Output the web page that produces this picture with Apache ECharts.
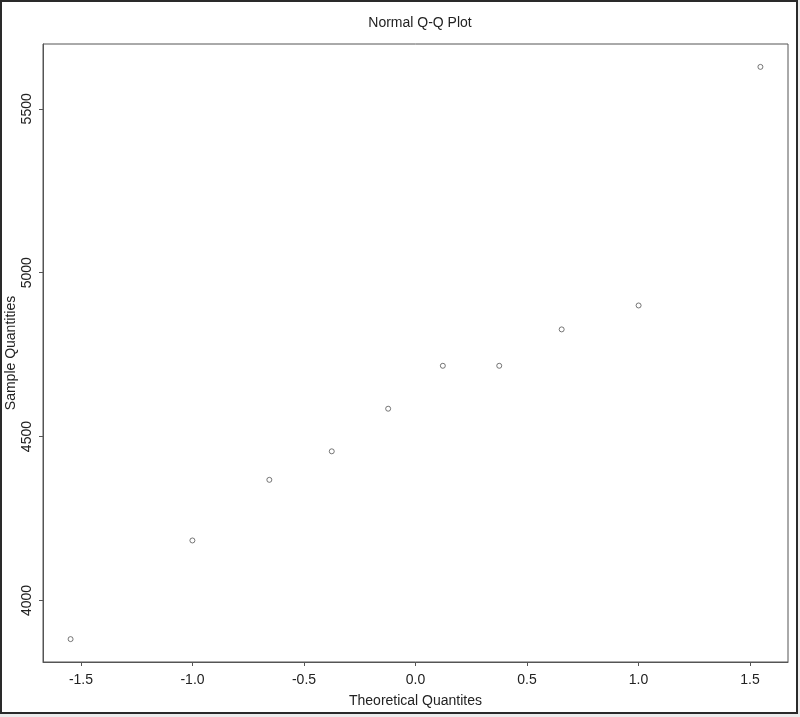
<!DOCTYPE html>
<html>
<head>
<meta charset="utf-8">
<script src="https://cdn.jsdelivr.net/npm/echarts@6/dist/echarts.min.js"></script>
<style>
html,body{margin:0;padding:0;background:#ececec;}
#chart{width:800px;height:717px;}
</style>
</head>
<body>
<div id="chart"></div>
<script>
// Data
const theoreticalQuantiles = [-1.5466, -1.0004, -0.6554, -0.3755, -0.1226, 0.1226, 0.3755, 0.6554, 1.0004, 1.5466];
const sampleQuantiles = [3882, 4183, 4368, 4455, 4585, 4716, 4716, 4827, 4900, 5628];
const xTicks = [-1.5, -1.0, -0.5, 0.0, 0.5, 1.0, 1.5];
const yTicks = [4000, 4500, 5000, 5500];

const points = theoreticalQuantiles.map((x, i) => [x, sampleQuantiles[i]]);

const xr = Math.max(...theoreticalQuantiles) - Math.min(...theoreticalQuantiles);
const yr = Math.max(...sampleQuantiles) - Math.min(...sampleQuantiles);
const xMin = Math.min(...theoreticalQuantiles) - 0.04 * xr;
const xMax = Math.max(...theoreticalQuantiles) + 0.04 * xr;
const yMin = Math.min(...sampleQuantiles) - 0.04 * yr;
const yMax = Math.max(...sampleQuantiles) + 0.04 * yr;

const FONT = '"Liberation Sans", Arial, sans-serif';
const chart = echarts.init(document.getElementById('chart'), null, {renderer: 'canvas'});
chart.setOption({
  animation: false,
  backgroundColor: 'transparent',
  graphic: [{
    type: 'rect', z: -10,
    shape: {x: 1, y: 1, width: 796, height: 712},
    style: {fill: '#ffffff', stroke: '#2a2a2a', lineWidth: 2}
  }],
  title: {
    text: 'Normal Q-Q Plot',
    left: 415, top: 11, textAlign: 'center',
    textStyle: {fontFamily: FONT, fontSize: 14, fontWeight: 'normal', color: '#222'}
  },
  grid: {
    left: 43, top: 44, width: 745, height: 618,
    containLabel: false, outerBoundsMode: 'none',
    show: true, borderColor: '#555', borderWidth: 1, backgroundColor: 'transparent'
  },
  xAxis: {
    type: 'value', min: xMin, max: xMax,
    name: 'Theoretical Quantites', nameLocation: 'middle', nameGap: 32, nameMoveOverlap: false,
    nameTextStyle: {fontFamily: FONT, fontSize: 14, color: '#222'},
    axisLine: {show: true, onZero: false, lineStyle: {color: '#555', width: 1}},
    splitLine: {show: false},
    axisTick: {show: true, length: 4, lineStyle: {color: '#555'}, customValues: xTicks},
    axisLabel: {
      customValues: xTicks, margin: 11,
      fontFamily: FONT, fontSize: 14, color: '#222',
      formatter: v => v.toFixed(1)
    }
  },
  yAxis: {
    type: 'value', min: yMin, max: yMax,
    name: 'Sample Quantities', nameLocation: 'middle', nameGap: 25, nameRotate: 90, nameMoveOverlap: false,
    nameTextStyle: {fontFamily: FONT, fontSize: 14, color: '#222'},
    axisLine: {show: true, onZero: false, lineStyle: {color: '#555', width: 1}},
    splitLine: {show: false},
    axisTick: {show: true, length: 4, lineStyle: {color: '#555'}, customValues: yTicks},
    axisLabel: {
      customValues: yTicks, rotate: 90, margin: 9,
      fontFamily: FONT, fontSize: 14, color: '#222',
      formatter: v => String(v)
    }
  },
  series: [{
    type: 'scatter',
    data: points,
    symbol: 'circle', symbolSize: 5,
    itemStyle: {color: '#ffffff', borderColor: '#555', borderWidth: 1}
  }]
});
</script>
</body>
</html>
